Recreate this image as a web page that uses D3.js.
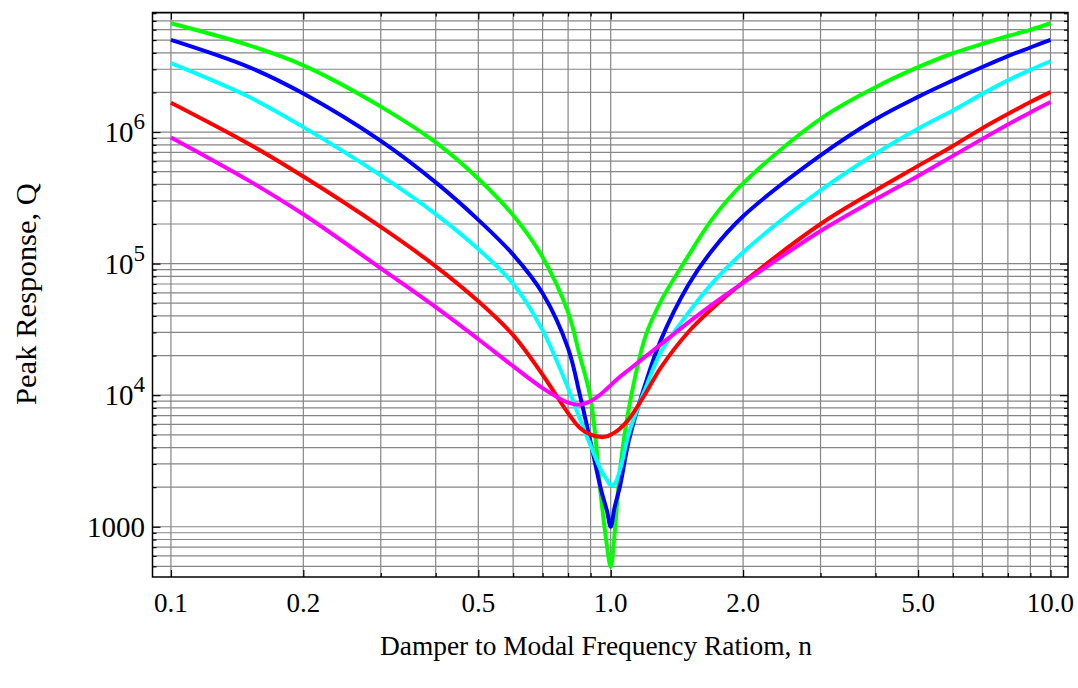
<!DOCTYPE html>
<meta charset="utf-8">
<script src="https://d3js.org/d3.v7.min.js"></script>
<style>
  body { margin: 0; background: #fff; }
  text { font-family: "Liberation Serif", "Times New Roman", serif; fill: #000; }
</style>
<div id="chart"></div>
<script>
// frequency ratio samples (shared by all curves)
var ratios = [0.1, 0.15, 0.2, 0.3, 0.4, 0.5, 0.6, 0.7, 0.8, 0.85, 0.9, 0.95, 0.98, 1.0, 1.02, 1.05, 1.1, 1.2, 1.3, 1.5, 1.7, 2, 3, 4, 5, 6, 7, 8, 9, 10];

// peak response per curve
var greenQ   = [6.71e6, 4.58e6, 3.21e6, 1.56e6, 8.34e5, 4.42e5, 2.33e5, 1.12e5, 4.27e4, 2.01e4, 9.49e3, 1.71e3, 726, 497, 865, 2.70e3, 7.97e3, 2.81e4, 5.17e4, 1.14e5, 2.17e5, 4.07e5, 1.26e6, 2.19e6, 3.11e6, 3.97e6, 4.68e6, 5.37e6, 5.98e6, 6.71e6];
var blueQ    = [5.02e6, 3.13e6, 1.96e6, 8.56e5, 4.14e5, 2.15e5, 1.17e5, 5.95e4, 2.27e4, 1.02e4, 4.40e3, 1.93e3, 1.33e3, 1.0e3, 1.39e3, 2.04e3, 4.55e3, 1.23e4, 2.62e4, 6.84e4, 1.26e5, 2.29e5, 6.64e5, 1.25e6, 1.85e6, 2.47e6, 3.12e6, 3.78e6, 4.39e6, 5.02e6];
var cyanQ    = [3.34e6, 1.86e6, 1.09e6, 4.68e5, 2.38e5, 1.29e5, 7.04e4, 3.12e4, 1.13e4, 6.69e3, 4.14e3, 2.70e3, 2.28e3, 2.07e3, 2.11e3, 2.70e3, 5.14e3, 1.13e4, 2.12e4, 4.20e4, 7.08e4, 1.22e5, 3.60e5, 6.84e5, 1.06e6, 1.46e6, 1.95e6, 2.47e6, 2.97e6, 3.45e6];
var redQ     = [1.67e6, 8.15e5, 4.59e5, 1.90e5, 9.54e4, 5.17e4, 2.86e4, 1.43e4, 7.30e3, 5.66e3, 5.01e3, 4.80e3, 4.86e3, 5.01e3, 5.19e3, 5.59e3, 6.57e3, 1.03e4, 1.62e4, 3.01e4, 4.54e4, 7.21e4, 2.00e5, 3.60e5, 5.53e5, 7.84e5, 1.07e6, 1.37e6, 1.69e6, 2.01e6];
var magentaQ = [9.10e5, 4.29e5, 2.37e5, 9.21e4, 4.66e4, 2.66e4, 1.66e4, 1.13e4, 8.77e3, 8.47e3, 9.00e3, 1.02e4, 1.12e4, 1.19e4, 1.27e4, 1.38e4, 1.56e4, 1.97e4, 2.43e4, 3.56e4, 4.88e4, 7.14e4, 1.77e5, 3.08e5, 4.64e5, 6.59e5, 8.87e5, 1.14e6, 1.41e6, 1.69e6];

var seriesColors = ["#00ff00", "#0000ff", "#00ffff", "#ff0000", "#ff00ff"];
var seriesValues = [greenQ, blueQ, cyanQ, redQ, magentaQ];

// tick values and labels
var xMajor = [0.1, 0.2, 0.5, 1, 2, 5, 10];
var xLabels = ["0.1", "0.2", "0.5", "1.0", "2.0", "5.0", "10.0"];
var yMajor = [1e3, 1e4, 1e5, 1e6];
var yExp = [null, 4, 5, 6];

var W = 1078, H = 688;
var pLeft = 152.5, pRight = 1068, pTop = 12.5, pBottom = 577;

var svg = d3.select("#chart").append("svg")
    .attr("width", W)
    .attr("height", H);

var x = d3.scaleLog().domain([0.0908, 10.96]).range([pLeft, pRight]);
var y = d3.scaleLog().domain([415, 8.1e6]).range([pBottom, pTop]);

// grid positions: 1..9 x each decade inside the domain
var xGrid = [], yGrid = [];
[0.1, 1].forEach(function(d) { for (var k = 1; k <= 9; k++) xGrid.push(+(d * k).toPrecision(3)); });
xGrid.push(10);
[100, 1e3, 1e4, 1e5, 1e6].forEach(function(d) {
  for (var k = 1; k <= 9; k++) { var v = d * k; if (v > 415 && v < 8.1e6) yGrid.push(v); }
});

var grid = svg.append("g");
grid.selectAll(".vg").data(xGrid).enter().append("line")
    .attr("x1", function(d) { return x(d); })
    .attr("x2", function(d) { return x(d); })
    .attr("y1", pTop).attr("y2", pBottom)
    .attr("stroke", "#858585").attr("stroke-width", 1.2);
grid.selectAll(".hg").data(yGrid).enter().append("line")
    .attr("y1", function(d) { return y(d); })
    .attr("y2", function(d) { return y(d); })
    .attr("x1", pLeft).attr("x2", pRight)
    .attr("stroke", "#858585").attr("stroke-width", 1.2);

// inward ticks on all four sides
function tickAxis(axisFn, scale, vals, size, tr) {
  svg.append("g")
      .attr("transform", tr)
      .call(axisFn(scale).tickValues(vals).tickSize(-size).tickFormat(""))
      .call(function(g) { g.select(".domain").remove(); })
      .selectAll("line").attr("stroke", "#000").attr("stroke-width", 1.2);
}
var xMinor = xGrid.filter(function(d) { return xMajor.indexOf(d) < 0; });
var yMinor = yGrid.filter(function(d) { return yMajor.indexOf(d) < 0; });
tickAxis(d3.axisBottom, x, xMajor, 7, "translate(0," + pBottom + ")");
tickAxis(d3.axisBottom, x, xMinor, 4, "translate(0," + pBottom + ")");
tickAxis(d3.axisTop, x, xMajor, 7, "translate(0," + pTop + ")");
tickAxis(d3.axisTop, x, xMinor, 4, "translate(0," + pTop + ")");
tickAxis(d3.axisLeft, y, yMajor, 8, "translate(" + pLeft + ",0)");
tickAxis(d3.axisLeft, y, yMinor, 4, "translate(" + pLeft + ",0)");
tickAxis(d3.axisRight, y, yMajor, 8, "translate(" + pRight + ",0)");
tickAxis(d3.axisRight, y, yMinor, 4, "translate(" + pRight + ",0)");

// curves
var line = d3.line()
    .x(function(d) { return x(d[0]); })
    .y(function(d) { return y(d[1]); })
    .curve(d3.curveCatmullRom.alpha(0.5));

var plot = svg.append("g");
seriesValues.forEach(function(vals, i) {
  plot.append("path")
      .datum(ratios.map(function(r, j) { return [r, vals[j]]; }))
      .attr("fill", "none")
      .attr("stroke", seriesColors[i])
      .attr("stroke-width", 4)
      .attr("stroke-linejoin", "round")
      .attr("d", line);
});

// frame
svg.append("rect")
    .attr("x", pLeft).attr("y", pTop)
    .attr("width", pRight - pLeft).attr("height", pBottom - pTop)
    .attr("fill", "none").attr("stroke", "#000").attr("stroke-width", 1.5);

// x tick labels
svg.selectAll(".xl").data(xMajor).enter().append("text")
    .attr("x", function(d) { return x(d); })
    .attr("y", 612)
    .attr("text-anchor", "middle")
    .style("font-size", "27px")
    .text(function(d, i) { return xLabels[i]; });

// y tick labels
yMajor.forEach(function(v, i) {
  var t = svg.append("text")
      .attr("x", 145)
      .attr("y", y(v) + 10)
      .attr("text-anchor", "end")
      .style("font-size", "29px");
  if (yExp[i] === null) {
    t.text("1000");
  } else {
    t.append("tspan").text("10");
    t.append("tspan").attr("dy", -13).style("font-size", "23px").text(yExp[i]);
  }
});

// axis titles
svg.append("text")
    .attr("x", 596)
    .attr("y", 655)
    .attr("text-anchor", "middle")
    .attr("textLength", 432)
    .attr("lengthAdjust", "spacingAndGlyphs")
    .style("font-size", "28px")
    .text("Damper to Modal Frequency Ratiom, n");

svg.append("text")
    .attr("transform", "translate(36,294) rotate(-90)")
    .attr("text-anchor", "middle")
    .attr("textLength", 222)
    .attr("lengthAdjust", "spacingAndGlyphs")
    .style("font-size", "30px")
    .text("Peak Response, Q");
</script>
